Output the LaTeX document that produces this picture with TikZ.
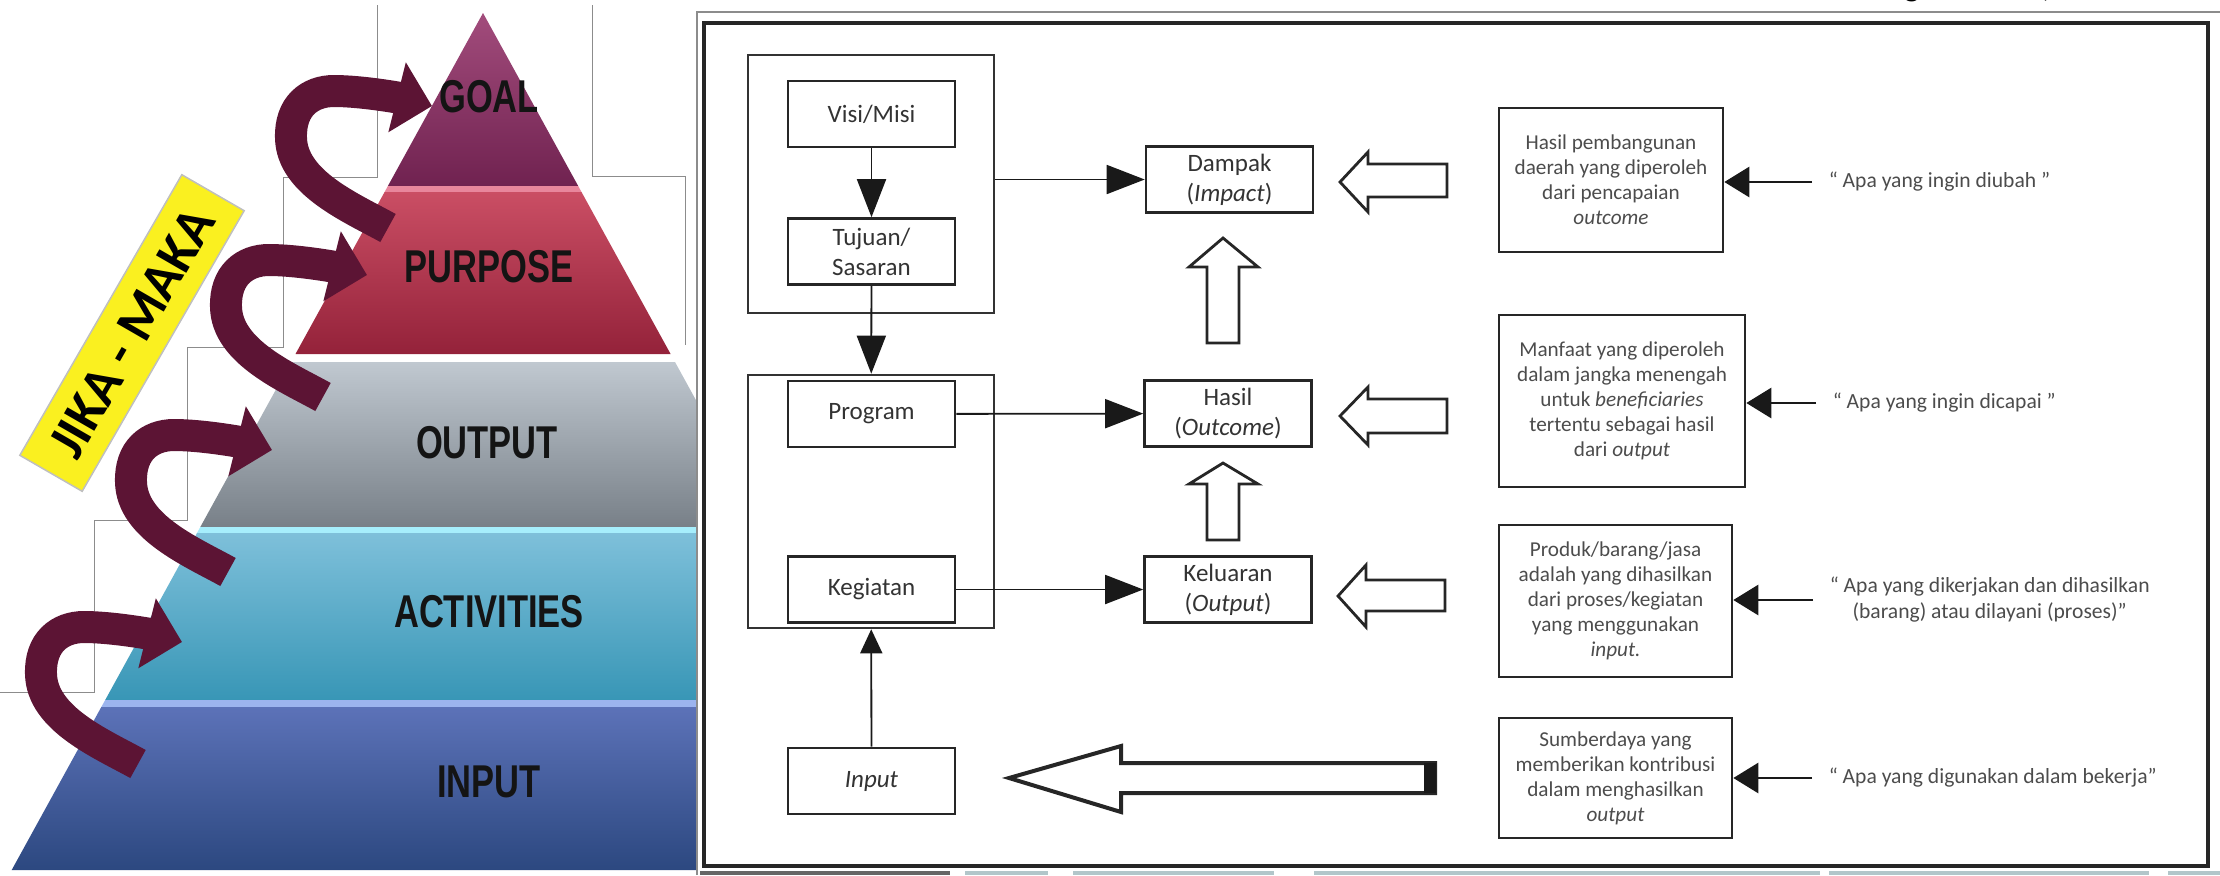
\documentclass[tikz,border=0pt]{standalone}
\usepackage{fontspec}
\setmainfont{Carlito}
\newfontfamily\pyrfont[FakeStretch=0.75]{Liberation Sans Bold}
\usetikzlibrary{arrows.meta}

\definecolor{goalTop}{RGB}{162,76,124}
\definecolor{goalBot}{RGB}{112,34,80}
\definecolor{purpTop}{RGB}{202,78,100}
\definecolor{purpBot}{RGB}{148,34,58}
\definecolor{outTop}{RGB}{192,200,208}
\definecolor{outBot}{RGB}{120,128,136}
\definecolor{actTop}{RGB}{126,192,218}
\definecolor{actBot}{RGB}{56,150,182}
\definecolor{inTop}{RGB}{92,114,184}
\definecolor{inBot}{RGB}{44,72,128}
\definecolor{pinkline}{RGB}{232,134,156}
\definecolor{cyanline}{RGB}{166,238,252}
\definecolor{blueline}{RGB}{156,180,238}
\definecolor{curlcol}{RGB}{92,20,52}
\definecolor{jikakuning}{RGB}{250,240,32}
\definecolor{stripcol}{RGB}{178,198,202}

\tikzset{every picture/.style={line width=0.75pt}}
\tikzset{
  box/.style={draw=black!85, line width=1.3pt, minimum width=83.5pt, minimum height=33pt,
    inner sep=0pt, align=center, text=black!80, font=\fontsize{12.5}{15}\selectfont},
  grp/.style={draw=black!80, line width=1.3pt, inner sep=0pt, minimum width=123pt},
  ket/.style={draw=black!85, line width=1.3pt, inner sep=0pt, align=center, text=black!70,
    font=\fontsize{10.6}{12.5}\selectfont},
  tanya/.style={anchor=west, inner xsep=8pt, align=center, text=black!70,
    font=\fontsize{10.8}{13}\selectfont},
  conn/.style={draw=black!90, line width=0.9pt, -{Triangle[length=19pt,width=14.5pt]}},
  connkecil/.style={draw=black!90, line width=0.9pt, -{Triangle[length=12pt,width=11pt]}},
  connket/.style={draw=black!90, line width=1.4pt, -{Triangle[length=12.5pt,width=15pt]}},
  hollow/.style={draw=black!85, fill=white, line width=1.4pt, line join=miter},
  curl/.style={draw=curlcol, line width=16pt, -{Triangle[length=18pt,width=35pt]}},
  pyrlabel/.style={font=\pyrfont\fontsize{23}{23}\selectfont, text=black!92, inner sep=0pt},
  jika/.style={fill=jikakuning, draw=black!25, minimum width=162pt, minimum height=36pt,
    inner sep=0pt, font=\bfseries\fontsize{27}{27}\selectfont},
  stair/.style={draw=black!45, line width=0.5pt}
}

\begin{document}
\begin{tikzpicture}[x=0.5pt,y=0.5pt,yscale=-1,xscale=1]
\useasboundingbox (0,0) rectangle (2220,875);

%Staircase lines behind the pyramid
\draw[stair] (377,5) -- (377,177) -- (283,177) -- (283,347) -- (187,347) -- (187,520) -- (94,520) -- (94,692) -- (0,692);
\draw[stair] (592,5) -- (592,176) -- (685,176) -- (685,345);

%Pyramid layers
\begin{scope}
\clip (0,0) rectangle (696,875);
\shade[top color=goalTop, bottom color=goalBot] (483,13) -- (578.2,186) -- (387.9,186) -- cycle;
\fill[pinkline] (387.9,186) -- (578.2,186) -- (581.5,192) -- (384.6,192) -- cycle;
\shade[top color=purpTop, bottom color=purpBot] (384.6,192) -- (581.5,192) -- (670.6,354) -- (295.5,354) -- cycle;
\shade[top color=outTop, bottom color=outBot] (291.1,362) -- (675,362) -- (765.7,527) -- (200.3,527) -- cycle;
\fill[cyanline] (200.3,527) -- (765.7,527) -- (769,533) -- (197,533) -- cycle;
\shade[top color=actTop, bottom color=actBot] (197,533) -- (769,533) -- (860.9,700) -- (105.2,700) -- cycle;
\fill[blueline] (105.2,700) -- (860.9,700) -- (864.7,707) -- (101.3,707) -- cycle;
\shade[top color=inTop, bottom color=inBot] (101.3,707) -- (864.7,707) -- (954.4,870) -- (11.7,870) -- cycle;
\end{scope}

% Text Node
\node[pyrlabel] (goal) at (489,97) {GOAL};
\node[pyrlabel] (purpose) at (489,267) {PURPOSE};
\node[pyrlabel] (output) at (487,443) {OUTPUT};
\node[pyrlabel] (activities) at (489,612) {ACTIVITIES};
\node[pyrlabel] (inputlvl) at (489,782) {INPUT};

%Label
\node[jika, rotate=60] (jikamaka) at (132,333) {JIKA - MAKA};

%Curved arrows
\foreach \tx/\ty in {138/764, 228/572, 323/397, 388/228}
  \draw[curl, shift={(\tx,\ty)}] (0,0) .. controls (-36,-20) and (-96,-45) .. (-97,-90) .. controls (-98,-122) and (-78,-137) .. (-54,-137) .. controls (-26,-137) and (12,-130) .. (44,-122);

%Right panel frame
\draw[black!45, line width=0.6pt] (697,875) -- (697,12) -- (2220,12);
\draw[black!85, line width=2.2pt] (704,23) rectangle (2208,866);
\fill[black!60] (700,871) rectangle (950,875);
\fill[stripcol] (965,871) rectangle (1048,875);
\fill[stripcol] (1073,871) rectangle (1274,875);
\fill[stripcol] (1314,871) rectangle (1820,875);
\fill[stripcol] (1829,871) rectangle (2149,875);
\fill[stripcol] (2168,871) rectangle (2220,875);

% Text Node (cut off at the top)
\node[anchor=base, inner sep=0pt, font=\bfseries\fontsize{16}{16}\selectfont] (potongg) at (1912,-4) {g};
\node[anchor=base, inner sep=0pt, font=\bfseries\fontsize{16}{16}\selectfont] (potongk) at (2047,-4) {)};

%Group boxes
\node[grp, minimum height=129pt] (grpA) at (871,184) {};
\node[grp, minimum height=126.5pt] (grpB) at (871,501.5) {};

%Main boxes
\node[box] (visi) at (871.5,114) {Visi/Misi};
\node[box] (tujuan) at (871.5,251.5) {Tujuan/\\Sasaran};
\node[box] (program) at (871.5,414) {Program};
\node[box] (kegiatan) at (871.5,589.5) {Kegiatan};
\node[box] (input) at (871.5,781) {\textit{Input}};
\node[box] (dampak) at (1229.5,179.5) {Dampak\\(\textit{Impact})};
\node[box] (hasil) at (1228,413.5) {Hasil\\(\textit{Outcome})};
\node[box] (keluaran) at (1228,589.5) {Keluaran\\(\textit{Output})};

%Connectors
\draw[conn] (visi) -- (tujuan);
\draw[conn] (tujuan) -- (grpB);
\draw[connkecil] (input) -- (grpB);
\draw[conn] (grpA.east |- dampak.west) -- (dampak.west);
\draw[conn] (program) -- (hasil);
\draw[conn] (kegiatan) -- (keluaran);

%Block arrows
\draw[hollow] (1223,238) -- (1258,267) -- (1239,267) -- (1239,343) -- (1207,343) -- (1207,267) -- (1189,267) -- cycle;
\draw[hollow] (1223,463) -- (1258,484) -- (1239,484) -- (1239,540) -- (1207,540) -- (1207,484) -- (1189,484) -- cycle;
\draw[hollow] (1340,182) -- (1368,152) -- (1368,164) -- (1447,164) -- (1447,197) -- (1368,197) -- (1368,212) -- cycle;
\draw[hollow] (1340,416) -- (1368,387) -- (1368,399) -- (1447,399) -- (1447,433) -- (1368,433) -- (1368,445) -- cycle;
\draw[hollow] (1338,596) -- (1366,565) -- (1366,580) -- (1445,580) -- (1445,611) -- (1366,611) -- (1366,627) -- cycle;
\draw[hollow, line width=2pt] (1009,778) -- (1121,746) -- (1121,763) -- (1435,763) -- (1435,793) -- (1121,793) -- (1121,812) -- cycle;
\fill[black!90] (1424,763) rectangle (1436,793);

%Description boxes
\node[ket, minimum width=112pt, minimum height=72pt] (ketA) at (1611,180) {Hasil pembangunan\\daerah yang diperoleh\\dari pencapaian\\\textit{outcome}};
\node[ket, minimum width=123pt, minimum height=86pt] (ketB) at (1622,401) {Manfaat yang diperoleh\\dalam jangka menengah\\untuk \textit{beneficiaries}\\tertentu sebagai hasil\\dari \textit{output}};
\node[ket, minimum width=116.5pt, minimum height=76pt] (ketC) at (1615.5,601) {Produk/barang/jasa\\adalah yang dihasilkan\\dari proses/kegiatan\\yang menggunakan\\\textit{input.}};
\node[ket, minimum width=116.5pt, minimum height=60pt] (ketD) at (1615.5,778) {Sumberdaya yang\\memberikan kontribusi\\dalam menghasilkan\\\textit{output}};

% Text Node
\node[tanya] (tanyaA) at (1812,182) {“ Apa yang ingin diubah ”};
\node[tanya] (tanyaB) at (1816,403) {“ Apa yang ingin dicapai ”};
\node[tanya] (tanyaC) at (1813,600) {“ Apa yang dikerjakan dan dihasilkan\\(barang) atau dilayani (proses)”};
\node[tanya] (tanyaD) at (1812,778) {“ Apa yang digunakan dalam bekerja”};

\draw[connket] (tanyaA.west) -- (tanyaA.west -| ketA.east);
\draw[connket] (tanyaB.west) -- (tanyaB.west -| ketB.east);
\draw[connket] (tanyaC.west) -- (tanyaC.west -| ketC.east);
\draw[connket] (tanyaD.west) -- (tanyaD.west -| ketD.east);

\end{tikzpicture}
\end{document}
